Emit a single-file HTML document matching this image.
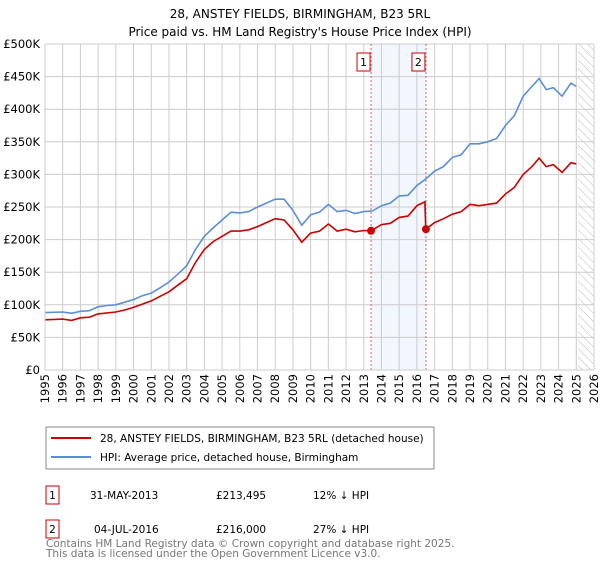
<!DOCTYPE html>
<html><head><meta charset="utf-8"><style>
body{margin:0;background:#fff;font-family:"DejaVu Sans","Liberation Sans",sans-serif;}
svg text{font-family:"DejaVu Sans","Liberation Sans",sans-serif;}
</style></head><body>
<svg id="chart" width="600" height="560" viewBox="0 0 600 560" xmlns="http://www.w3.org/2000/svg">
<defs><pattern id="hatch" patternUnits="userSpaceOnUse" width="6" height="6" patternTransform="rotate(-45)"><line x1="0" y1="0" x2="0" y2="6" stroke="#bbb" stroke-width="1"/></pattern></defs>
<text x="300" y="18" text-anchor="middle" font-size="12">28, ANSTEY FIELDS, BIRMINGHAM, B23 5RL</text>
<text x="300" y="36" text-anchor="middle" font-size="12">Price paid vs. HM Land Registry's House Price Index (HPI)</text>
<g id="grid"></g><g id="series"></g><g id="axes"></g>
<g>
<rect x="46" y="427" width="388" height="42" fill="#fff" stroke="#888"/>
<line x1="51" y1="438" x2="91" y2="438" stroke="#cc0000" stroke-width="2"/>
<text x="100" y="442" font-size="10.5">28, ANSTEY FIELDS, BIRMINGHAM, B23 5RL (detached house)</text>
<line x1="51" y1="457" x2="91" y2="457" stroke="#5b8fd4" stroke-width="2"/>
<text x="100" y="461" font-size="10.5">HPI: Average price, detached house, Birmingham</text>
</g>
<g font-size="10.5">
<rect x="46" y="486" width="13" height="18" fill="#fff" stroke="#cc0000"/><text x="52.5" y="499" text-anchor="middle">1</text>
<text x="90" y="499">31-MAY-2013</text><text x="216" y="499">£213,495</text><text x="313" y="499">12% ↓ HPI</text>
</g>
<g font-size="10.5">
<rect x="46" y="520" width="13" height="18" fill="#fff" stroke="#cc0000"/><text x="52.5" y="533" text-anchor="middle">2</text>
<text x="94" y="533">04-JUL-2016</text><text x="216" y="533">£216,000</text><text x="313" y="533">27% ↓ HPI</text>
</g>
<text x="46" y="547" font-size="10.5" fill="#777">Contains HM Land Registry data © Crown copyright and database right 2025.</text>
<text x="46" y="557" font-size="10.5" fill="#777">This data is licensed under the Open Government Licence v3.0.</text>
</svg>
<script>
const hpiYears=[1995,1996,1996.5,1997,1997.5,1998,1998.5,1999,1999.5,2000,2000.5,2001,2001.5,2002,2002.5,2003,2003.5,2004,2004.5,2005,2005.5,2006,2006.5,2007,2007.5,2008,2008.5,2009,2009.5,2010,2010.5,2011,2011.5,2012,2012.5,2013,2013.5,2014,2014.5,2015,2015.5,2016,2016.5,2017,2017.5,2018,2018.5,2019,2019.5,2020,2020.5,2021,2021.5,2022,2022.5,2022.9,2023.3,2023.7,2024.2,2024.7,2025.0];
const hpiValues=[88,89,87,90,91,97,99,100,104,108,114,118,126,135,147,160,185,205,218,230,242,241,243,250,256,262,262,245,222,238,242,254,243,245,240,243,244,252,256,267,268,283,293,305,312,326,330,347,347,350,355,375,390,420,435,447,430,433,420,440,435];
const priceYears=[1995,1996,1996.5,1997,1997.5,1998,1999,1999.5,2000,2000.5,2001,2001.5,2002,2002.5,2003,2003.5,2004,2004.5,2005,2005.5,2006,2006.5,2007,2007.5,2008,2008.5,2009,2009.5,2010,2010.5,2011,2011.5,2012,2012.5,2013,2013.41,2014,2014.5,2015,2015.5,2016,2016.45,2016.5,2017,2017.5,2018,2018.5,2019,2019.5,2020,2020.5,2021,2021.5,2022,2022.5,2022.9,2023.3,2023.7,2024.2,2024.7,2025.0];
const priceValues=[77,78,76,80,81,86,89,92,96,101,106,113,120,130,140,165,185,197,205,213,213,215,220,226,232,230,215,196,210,213,224,213,216,212,214,213.5,223,225,234,236,252,258,216,226,232,239,243,254,252,254,256,270,280,300,312,325,312,315,303,318,316];
const saleYears=[2013.41,2016.51];
const saleValues=[213.495,216];
const yTicks=[0,50,100,150,200,250,300,350,400,450,500];
const yTickLabels=["£0","£50K","£100K","£150K","£200K","£250K","£300K","£350K","£400K","£450K","£500K"];
const xTicks=[1995,1996,1997,1998,1999,2000,2001,2002,2003,2004,2005,2006,2007,2008,2009,2010,2011,2012,2013,2014,2015,2016,2017,2018,2019,2020,2021,2022,2023,2024,2025,2026];
const NS="http://www.w3.org/2000/svg";
const X0=45,X1=594,Y0=370,Y1=44;
const xs=y=>X0+(y-1995)/(2026-1995)*(X1-X0);
const ys=v=>Y0-v/500*(Y0-Y1);
function mk(tag,attrs,parent){const e=document.createElementNS(NS,tag);for(const k in attrs)e.setAttribute(k,attrs[k]);parent.appendChild(e);return e;}
const grid=document.getElementById('grid'),ser=document.getElementById('series'),ax=document.getElementById('axes');
let r=mk('rect',{x:xs(saleYears[0]),y:Y1,width:xs(saleYears[1])-xs(saleYears[0]),height:Y0-Y1,fill:'#f2f6fd'},grid);


let h=mk('rect',{x:xs(2025.1),y:Y1,width:X1-xs(2025.1),height:Y0-Y1,fill:'url(#hatch)'},grid);


yTicks.forEach((t,i)=>{
 let l=mk('line',{x1:X0,x2:X1,y1:ys(t),y2:ys(t),stroke:'#ccc'},grid);
 
 
 let tx=mk('text',{x:X0-5,y:ys(t)+4,'text-anchor':'end','font-size':'11.5'},ax);tx.textContent=yTickLabels[i];
 
 
});
xTicks.forEach(t=>{
 let l=mk('line',{x1:xs(t),x2:xs(t),y1:Y1,y2:Y0,stroke:'#ccc'},grid);
 
 
 let tx=mk('text',{x:0,y:0,'text-anchor':'end','font-size':'11.5',transform:`translate(${xs(t)+4},${Y0+4}) rotate(-90)`},ax);tx.textContent=String(t);
 
 
});
saleYears.forEach((s,i)=>{
 let l=mk('line',{x1:xs(s),x2:xs(s),y1:Y1,y2:Y0,stroke:'#e06060','stroke-dasharray':'2,2'},grid);
 
 
 let b=mk('rect',{x:xs(s)-14,y:53,width:13,height:18,fill:'#fff',stroke:'#cc0000'},ax);
 
 
 let t=mk('text',{x:xs(s)-7.5,y:66,'text-anchor':'middle','font-size':'11'},ax);t.textContent=String(i+1);
 
 
});
mk('line',{x1:X0,x2:X0,y1:Y1,y2:Y0,stroke:'#ccc'},ax);
mk('line',{x1:X0,x2:X1,y1:Y0,y2:Y0,stroke:'#ccc'},ax);
const pts=(xa,va)=>xa.map((y,i)=>xs(y).toFixed(1)+','+ys(va[i]).toFixed(1)).join(' ');
let hp=mk('polyline',{points:pts(hpiYears,hpiValues),fill:'none',stroke:'#5b8fd4','stroke-width':1.6},ser);


let pp=mk('polyline',{points:pts(priceYears,priceValues),fill:'none',stroke:'#cc0000','stroke-width':1.6},ser);


saleYears.forEach((s,i)=>{
 let c=mk('circle',{cx:xs(s),cy:ys(saleValues[i]),r:4,fill:'#cc0000'},ser);
 
 
});
</script>
</body></html>
